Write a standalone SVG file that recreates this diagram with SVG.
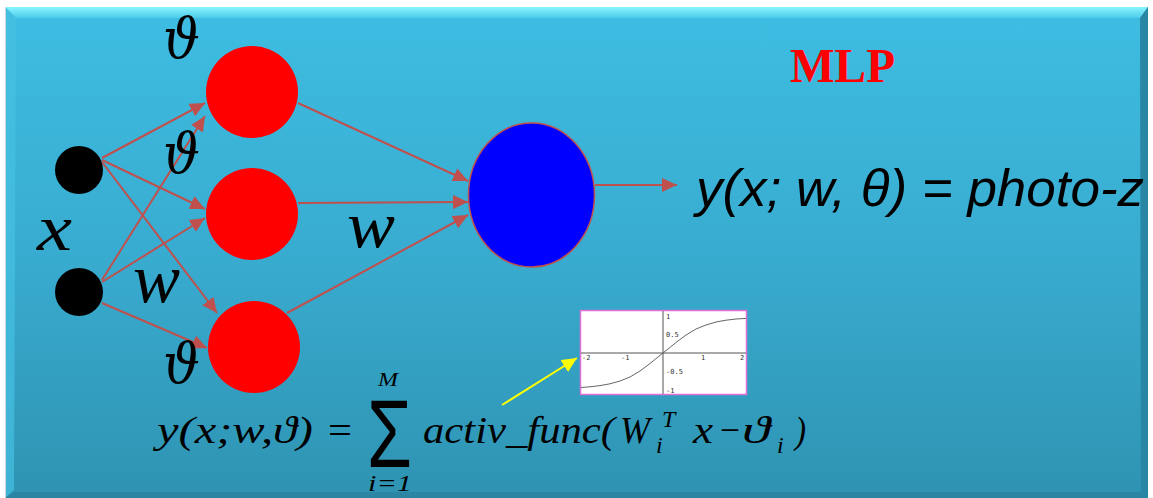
<svg xmlns="http://www.w3.org/2000/svg" width="1153" height="498" viewBox="0 0 1153 498">
<style>
.edge{stroke:#c0504d;stroke-width:2;fill:none;marker-end:url(#ah)}
.lbl{font-family:"DejaVu Serif","Liberation Serif",serif;font-style:italic;fill:#000}
.big{font-family:"Liberation Serif",serif;font-style:italic;fill:#000}
.f{font-family:"Liberation Serif","DejaVu Serif",serif;font-style:italic;fill:#000;font-size:38px}
.fu{font-family:"Liberation Serif","DejaVu Serif",serif;fill:#000;font-size:38px}
.tick{font-family:"DejaVu Sans Mono",monospace;font-size:7px;fill:#333}
</style>
<defs>
<linearGradient id="bg" x1="0" y1="0" x2="0" y2="1">
<stop offset="0" stop-color="#3ebde2"/>
<stop offset="0.5" stop-color="#38acd0"/>
<stop offset="1" stop-color="#2f93b2"/>
</linearGradient>
<linearGradient id="topb" x1="0" y1="0" x2="0" y2="1">
<stop offset="0" stop-color="#8af6ff"/>
<stop offset="1" stop-color="#4cc9ea"/>
</linearGradient>
<marker id="ah" markerUnits="userSpaceOnUse" markerWidth="16" markerHeight="14" refX="15" refY="7" orient="auto">
<path d="M0,0 L15,7 L0,14 Z" fill="#c0504d"/>
</marker>
<marker id="yah" markerUnits="userSpaceOnUse" markerWidth="16" markerHeight="14" refX="15" refY="7" orient="auto">
<path d="M0,0 L15,7 L0,14 Z" fill="#ffff00"/>
</marker>
</defs>
<rect x="0" y="0" width="1153" height="498" fill="#ffffff"/>
<g id="panel">
<rect x="5" y="7" width="1143" height="491" fill="url(#bg)"/>
<polygon points="5,7 1148,7 1140,18 16,18" fill="url(#topb)"/>
<polygon points="5,7 16,18 14,490 5,498" fill="#46c0e2" opacity="0.7"/>
<polygon points="1148,7 1148,498 1141,492 1140,18" fill="#2a86a5"/>
<polygon points="5,498 14,492 1141,492 1148,498" fill="#2c86a3"/>
<line x1="5.5" y1="7" x2="5.5" y2="498" stroke="#c8d8dc" stroke-width="1"/>
</g>
<g id="title"><text x="790" y="82" font-family="Liberation Serif,serif" font-weight="bold" font-size="48" fill="#ff0000" textLength="105" lengthAdjust="spacingAndGlyphs">MLP</text></g>
<g id="connectors">
<line class="edge" x1="102" y1="158" x2="205" y2="103"/>
<line class="edge" x1="102" y1="160" x2="205" y2="209"/>
<line class="edge" x1="102" y1="162" x2="217" y2="313"/>
<line class="edge" x1="102" y1="280" x2="205" y2="116"/>
<line class="edge" x1="102" y1="282" x2="205" y2="218"/>
<line class="edge" x1="102" y1="303" x2="207" y2="348"/>
<line class="edge" x1="298" y1="103" x2="468" y2="181"/>
<line class="edge" x1="298" y1="203" x2="468" y2="202"/>
<line class="edge" x1="287" y1="313" x2="468" y2="215"/>
<line class="edge" x1="595" y1="185" x2="677" y2="185"/>
</g>
<g id="input1"><circle cx="79" cy="170" r="24" fill="#000"/></g>
<g id="input2"><circle cx="79" cy="292" r="24" fill="#000"/></g>
<g id="hidden1"><circle cx="252" cy="92" r="46" fill="#ff0000"/></g>
<g id="hidden2"><circle cx="252" cy="214" r="46" fill="#ff0000"/></g>
<g id="hidden3"><circle cx="254" cy="347" r="46" fill="#ff0000"/></g>
<g id="output"><ellipse cx="531.5" cy="195" rx="63" ry="72" fill="#0000ff" stroke="#c0504d" stroke-width="1.5"/></g>
<g id="labels">
<text class="lbl" x="163" y="58" font-size="56" textLength="37" lengthAdjust="spacingAndGlyphs">ϑ</text>
<text class="lbl" x="163" y="173" font-size="56" textLength="37" lengthAdjust="spacingAndGlyphs">ϑ</text>
<text class="lbl" x="163" y="383" font-size="56" textLength="37" lengthAdjust="spacingAndGlyphs">ϑ</text>
<text class="big" x="37" y="250" font-size="66" textLength="35" lengthAdjust="spacingAndGlyphs">x</text>
<text class="big" x="133" y="302" font-size="70" textLength="47" lengthAdjust="spacingAndGlyphs">w</text>
<text class="big" x="347" y="247" font-size="66" textLength="48" lengthAdjust="spacingAndGlyphs">w</text>
</g>
<g id="result"><text x="696" y="206" font-family="Liberation Sans,Arial,sans-serif" font-style="italic" font-size="52" fill="#000" textLength="448" lengthAdjust="spacingAndGlyphs">y(x; w, θ) = photo-z</text></g>
<g id="sigmoid">
<rect x="580.5" y="310.5" width="166" height="84" fill="#ffffff" stroke="#e070d8" stroke-width="1.5"/>
<line x1="581" y1="353" x2="746" y2="353" stroke="#555" stroke-width="1"/>
<line x1="663" y1="311" x2="663" y2="394" stroke="#555" stroke-width="1"/>
<text class="tick" x="582" y="360">-2</text>
<text class="tick" x="621" y="360">-1</text>
<text class="tick" x="701" y="360">1</text>
<text class="tick" x="740" y="360">2</text>
<text class="tick" x="666" y="319">1</text>
<text class="tick" x="666" y="337">0.5</text>
<text class="tick" x="666" y="374">-0.5</text>
<text class="tick" x="666" y="393">-1</text>
<polyline fill="none" stroke="#666" stroke-width="1" points="581,387.5 590,386.8 600,385.6 610,383.8 620,381.0 630,377.0 640,371.0 650,363.5 656,358.6 663,353 670,347.4 676,342.5 686,335.0 696,329.0 706,325.0 716,322.0 726,320.2 736,319.0 746,318.4"/>
</g>
<g id="pointer"><line x1="502" y1="405" x2="577" y2="358" stroke="#ffff00" stroke-width="2" marker-end="url(#yah)"/></g>
<g id="formula">
<text class="f" x="157" y="443" textLength="156" lengthAdjust="spacingAndGlyphs">y(x;w,ϑ)</text>
<text class="fu" x="328" y="443" textLength="24" lengthAdjust="spacingAndGlyphs">=</text>
<text x="367" y="467" font-family="Liberation Sans,sans-serif" font-size="96" textLength="45" lengthAdjust="spacingAndGlyphs" fill="#000">Σ</text>
<text class="f" x="378" y="386" style="font-size:19px" textLength="20" lengthAdjust="spacingAndGlyphs">M</text>
<text class="f" x="368" y="491" style="font-size:23px" textLength="44" lengthAdjust="spacingAndGlyphs">i=1</text>
<text class="f" x="423" y="443" textLength="192" lengthAdjust="spacingAndGlyphs">activ_func(</text>
<text class="f" x="620" y="443" textLength="30" lengthAdjust="spacingAndGlyphs">W</text>
<text class="f" x="656" y="453" style="font-size:24px">i</text>
<text class="f" x="662" y="427" style="font-size:24px">T</text>
<text class="f" x="693" y="443" textLength="20" lengthAdjust="spacingAndGlyphs">x</text>
<text class="fu" x="720" y="443" textLength="20" lengthAdjust="spacingAndGlyphs">−</text>
<text class="f" x="742" y="443" textLength="28" lengthAdjust="spacingAndGlyphs">ϑ</text>
<text class="f" x="777" y="453" style="font-size:24px">i</text>
<text class="f" x="795" y="443" textLength="11" lengthAdjust="spacingAndGlyphs">)</text>
</g>
</svg>
